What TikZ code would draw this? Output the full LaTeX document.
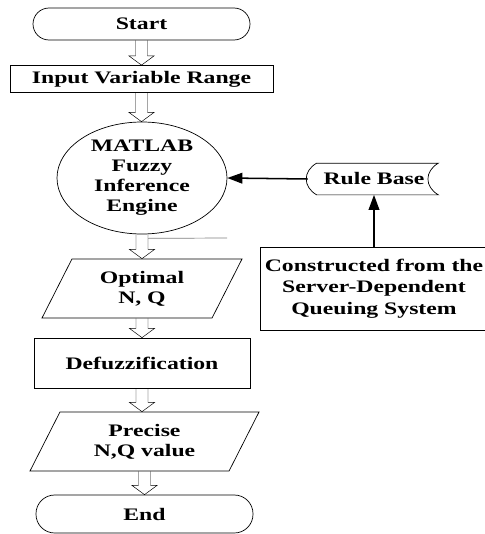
\documentclass[tikz,border=0pt]{standalone}
\usepackage{fontspec}
\setmainfont{Liberation Serif}[FakeStretch=1.35]
\usepackage{tikz}
\usetikzlibrary{shapes.geometric}
\usetikzlibrary{calc}
\usetikzlibrary{arrows.meta, positioning}

\begin{document}
\begin{tikzpicture}[
		x=0.03cm, y=-0.03cm,
		every node/.style={
				font=\fontsize{15}{17}\selectfont\bfseries,
				align=center,
				line width=0.6pt
			},
		term/.style={draw, rectangle},
		stepbox/.style={draw, rectangle},
		io/.style={
				draw,
				trapezium,
				trapezium left angle=55,  % slant of the sides
				trapezium right angle=125,
				trapezium stretches body=true
			},
		fat/.style={
				draw, line width=0.6pt,
				to path={
						let \p1=(\tikztostart), \p2=(\tikztotarget) in
						(\x1-0.18cm,\y1) -- (\x1-0.18cm,\y2+0.28cm) -- (\x1-0.38cm,\y2+0.28cm) -- (\x1,\y2)
						-- (\x1+0.38cm,\y2+0.28cm) -- (\x1+0.18cm,\y2+0.28cm) -- (\x1+0.18cm,\y1)
					}
			},
		>={Triangle[length=0.45cm, width=0.32cm]}
	]
	\useasboundingbox (0,0) rectangle (485,534);
	\clip (0,0) rectangle (485,534);

	% main column
	\node[term, rounded corners=0.48cm, minimum width=6.51cm, minimum height=0.96cm] (start) at (141.5,24) {Start};
	\node[stepbox, minimum width=7.89cm, minimum height=0.81cm] (input) at (141.5,79) {Input Variable Range};
	\node[draw, ellipse, minimum width=5.1cm, minimum height=3.36cm, inner sep=0pt] (fie) at (142,178) {MATLAB\\Fuzzy\\Inference\\Engine};
	\node[io, minimum width=6cm, minimum height=1.77cm] (opt) at (142,288.5) {Optimal\\N, Q};
	\node[stepbox, minimum width=6.48cm, minimum height=1.5cm] (defuzz) at (142,363) {Defuzzification};
	\node[io, minimum width=6.87cm, minimum height=1.77cm] (precise) at (144.5,441.5) {Precise\\N,Q value};
	\node[term, rounded corners=0.56cm, minimum width=6.51cm, minimum height=1.14cm] (end) at (144.5,514) {End};

	% side column
	\node[minimum width=3.96cm, minimum height=0.93cm] (rule) at (374,179) {Rule Base};
	\draw[line width=0.6pt]
	([xshift=0.27cm]rule.north west) -- ([xshift=-0.06cm]rule.north east)
	to[bend right=60, looseness=1.3] ([xshift=-0.06cm]rule.south east) --
	([xshift=0.27cm]rule.south west) to[bend left=60, looseness=1.3] cycle;

	\node[stepbox, minimum width=6.84cm, minimum height=2.49cm, inner xsep=0pt, font=\fontsize{15}{18.5}\selectfont\bfseries] (cons) at (374,288.5) {Constructed from the\\Server-Dependent\\Queuing System};

	% hollow arrows
	\draw (start.south) to[fat] (input.north);
	\draw (input.south) to[fat] (fie.north);
	\draw (fie.south) to[fat] (opt.north);
	\draw (opt.south) to[fat] (defuzz.north);
	\draw (defuzz.south) to[fat] (precise.north);
	\draw (precise.south) to[fat] (end.north);

	% stray rule under the engine
	\coordinate (stub) at (227,238);
	\draw[gray, line width=0.6pt] ([shift={(0.18cm,-0.12cm)}]fie.south) -- (stub);

	\draw[->, line width=1.3pt] (rule.west) -- (fie.east);
	\draw[->, line width=1.3pt] (cons.north) -- (rule.south);
\end{tikzpicture}
\end{document}
